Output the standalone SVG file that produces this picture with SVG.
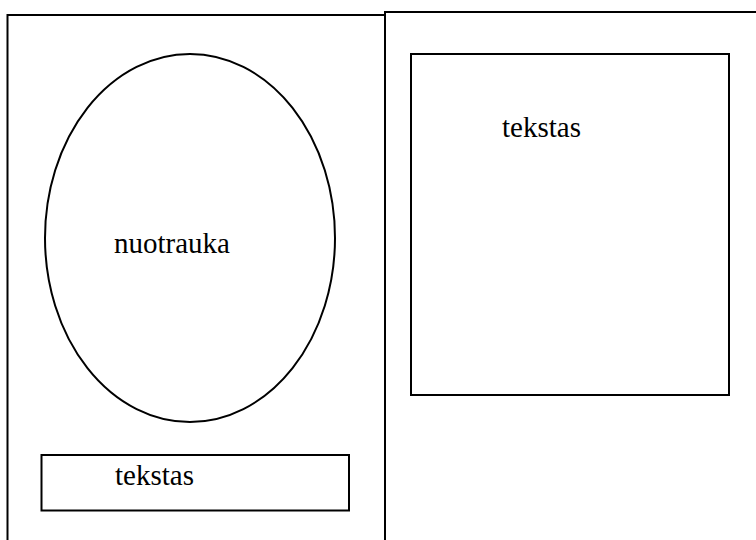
<svg xmlns="http://www.w3.org/2000/svg" width="756" height="540" viewBox="0 0 756 540">
<style>
.b{fill:none;stroke:#000;stroke-width:2}
.t{font-family:'Liberation Serif','DejaVu Serif',serif;font-size:29px;fill:#000}
</style>
<rect width="756" height="540" fill="#fff"/>
<g id="left-panel"><rect class="b" x="7.5" y="15" width="377.5" height="540"/></g>
<g id="right-panel"><rect class="b" x="385" y="12" width="390" height="540"/></g>
<g id="photo"><ellipse class="b" cx="190" cy="238" rx="145" ry="184"/><text class="t" x="114" y="253">nuotrauka</text></g>
<g id="caption"><rect class="b" x="41.5" y="455" width="307.5" height="55.5"/><text class="t" x="115" y="485">tekstas</text></g>
<g id="textbox"><rect class="b" x="411" y="54" width="318" height="341"/><text class="t" x="502" y="137">tekstas</text></g>
<g id="connectors"/>
</svg>
